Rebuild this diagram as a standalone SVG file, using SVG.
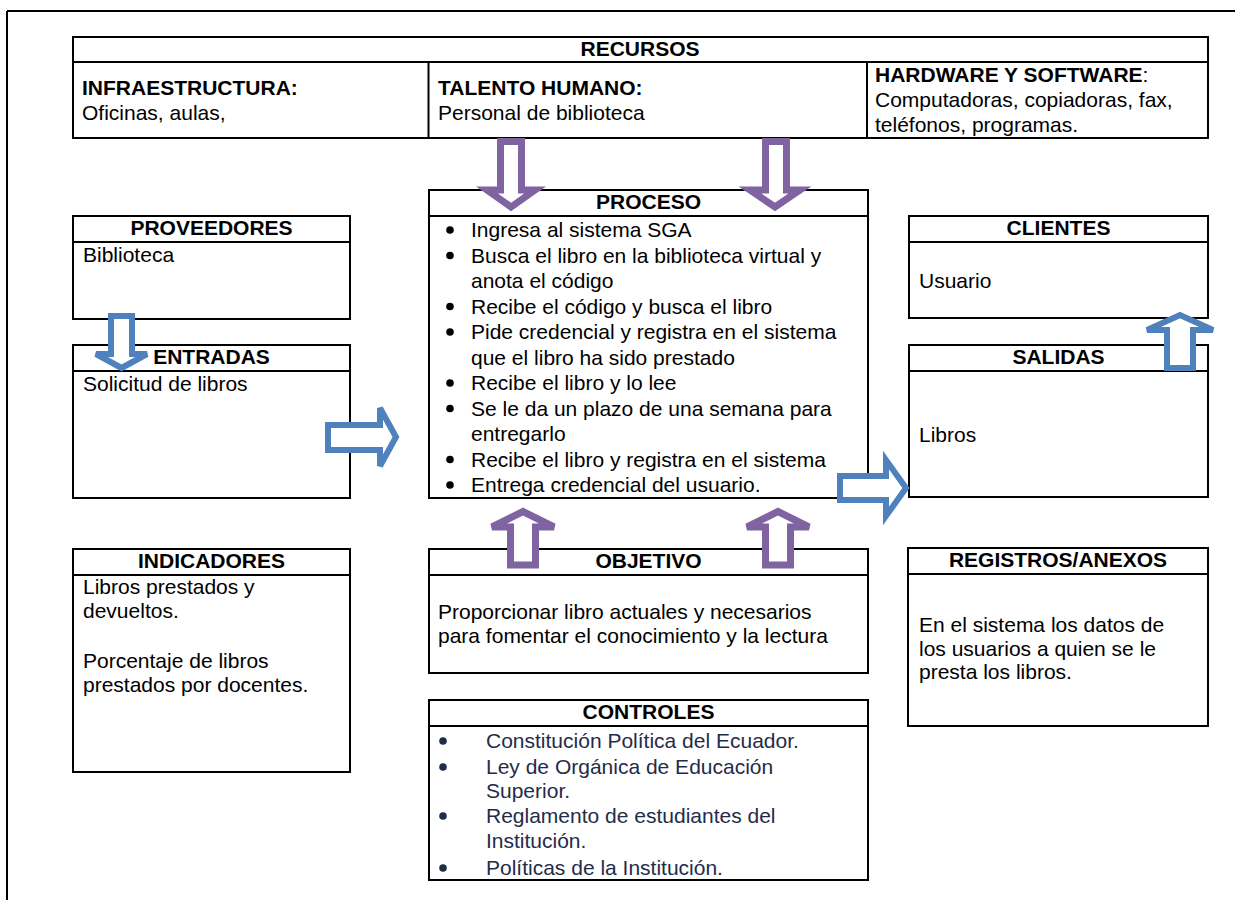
<svg xmlns="http://www.w3.org/2000/svg" width="1235" height="900" viewBox="0 0 1235 900">
<style>
.box{fill:#fff;stroke:#000;stroke-width:2}
.ln{stroke:#000;stroke-width:2;fill:none}
text{font-family:"Liberation Sans",Arial,sans-serif;font-size:21px;fill:#000}
.b{font-weight:bold}
.c{text-anchor:middle}
.nv{fill:#1f2c4a}
.pa{fill:#fff;stroke:#8064a2;stroke-width:7;stroke-linejoin:miter}
.ba{fill:#fff;stroke:#4f81bd;stroke-width:6;stroke-linejoin:miter}
</style>
<rect width="1235" height="900" fill="#fff"/>
<g id="frame">
<path class="ln" d="M7,11 H1235 M7,11 V900"/>
</g>
<g id="recursos">
<rect class="box" x="73" y="37" width="1135" height="101"/>
<path class="ln" d="M73,62 H1208 M428.5,62 V138 M867,62 V138"/>
<text class="b c" x="640" y="56">RECURSOS</text>
<text class="b" x="82" y="95">INFRAESTRUCTURA:</text>
<text x="82" y="120">Oficinas, aulas,</text>
<text class="b" x="438" y="95">TALENTO HUMANO:</text>
<text x="438" y="120">Personal de biblioteca</text>
<text x="875" y="82"><tspan class="b">HARDWARE Y SOFTWARE</tspan>:</text>
<text x="875" y="107">Computadoras, copiadoras, fax,</text>
<text x="875" y="132">teléfonos, programas.</text>
</g>
<g id="proveedores">
<rect class="box" x="73" y="216" width="277" height="103"/>
<path class="ln" d="M73,242 H350"/>
<text class="b c" x="211.5" y="235">PROVEEDORES</text>
<text x="83" y="262">Biblioteca</text>
</g>
<g id="entradas">
<rect class="box" x="73" y="345" width="277" height="153"/>
<path class="ln" d="M73,371 H350"/>
<text class="b c" x="211.5" y="364">ENTRADAS</text>
<text x="83" y="391">Solicitud de libros</text>
</g>
<g id="proceso">
<rect class="box" x="429" y="190" width="439" height="308"/>
<path class="ln" d="M429,216 H868"/>
<text class="b c" x="648.5" y="209">PROCESO</text>
<g fill="#000">
<circle cx="450" cy="230" r="3.8"/>
<circle cx="450" cy="255.5" r="3.8"/>
<circle cx="450" cy="306.5" r="3.8"/>
<circle cx="450" cy="332" r="3.8"/>
<circle cx="450" cy="383" r="3.8"/>
<circle cx="450" cy="408.5" r="3.8"/>
<circle cx="450" cy="459.5" r="3.8"/>
<circle cx="450" cy="485" r="3.8"/>
</g>
<text x="471" y="237">Ingresa al sistema SGA</text>
<text x="471" y="262.5">Busca el libro en la biblioteca virtual y</text>
<text x="471" y="288">anota el código</text>
<text x="471" y="313.5">Recibe el código y busca el libro</text>
<text x="471" y="339">Pide credencial y registra en el sistema</text>
<text x="471" y="364.5">que el libro ha sido prestado</text>
<text x="471" y="390">Recibe el libro y lo lee</text>
<text x="471" y="415.5">Se le da un plazo de una semana para</text>
<text x="471" y="441">entregarlo</text>
<text x="471" y="466.5">Recibe el libro y registra en el sistema</text>
<text x="471" y="492">Entrega credencial del usuario.</text>
</g>
<g id="clientes">
<rect class="box" x="909" y="216" width="299" height="102"/>
<path class="ln" d="M909,242 H1208"/>
<text class="b c" x="1058.5" y="235">CLIENTES</text>
<text x="919" y="288">Usuario</text>
</g>
<g id="salidas">
<rect class="box" x="909" y="345" width="299" height="152"/>
<path class="ln" d="M909,371 H1208"/>
<text class="b c" x="1058.5" y="364">SALIDAS</text>
<text x="919" y="442">Libros</text>
</g>
<g id="indicadores">
<rect class="box" x="73" y="549" width="277" height="223"/>
<path class="ln" d="M73,575 H350"/>
<text class="b c" x="211.5" y="568">INDICADORES</text>
<text x="83" y="594">Libros prestados y</text>
<text x="83" y="618">devueltos.</text>
<text x="83" y="668">Porcentaje de libros</text>
<text x="83" y="692">prestados por docentes.</text>
</g>
<g id="objetivo">
<rect class="box" x="429" y="549" width="439" height="124"/>
<path class="ln" d="M429,575 H868"/>
<text class="b c" x="648.5" y="568">OBJETIVO</text>
<text x="438" y="619">Proporcionar libro actuales y necesarios</text>
<text x="438" y="643">para fomentar el conocimiento y la lectura</text>
</g>
<g id="registros">
<rect class="box" x="908" y="548" width="300" height="178"/>
<path class="ln" d="M908,574 H1208"/>
<text class="b c" x="1058" y="567">REGISTROS/ANEXOS</text>
<text x="919" y="632">En el sistema los datos de</text>
<text x="919" y="656">los usuarios a quien se le</text>
<text x="919" y="679">presta los libros.</text>
</g>
<g id="controles">
<rect class="box" x="429" y="700" width="439" height="180"/>
<path class="ln" d="M429,726 H868"/>
<text class="b c" x="648.5" y="719">CONTROLES</text>
<g fill="#1f2c4a">
<circle cx="443" cy="741" r="3.8"/>
<circle cx="443" cy="767" r="3.8"/>
<circle cx="443" cy="816" r="3.8"/>
<circle cx="443" cy="868" r="3.8"/>
</g>
<text class="nv" x="486" y="748">Constitución Política del Ecuador.</text>
<text class="nv" x="486" y="774">Ley de Orgánica de Educación</text>
<text class="nv" x="486" y="798">Superior.</text>
<text class="nv" x="486" y="823">Reglamento de estudiantes del</text>
<text class="nv" x="486" y="848">Institución.</text>
<text class="nv" x="486" y="875">Políticas de la Institución.</text>
</g>
<g id="connectors">
<path class="pa" d="M500.5,141.5 H521.5 V190 H535 L511,207 L487,190 H500.5 Z"/>
<path class="pa" d="M765.5,141.5 H786.5 V190 H800 L775,207 L750,190 H765.5 Z"/>
<path class="pa" d="M510.5,565 V527 H492 L523,511.5 L554,527 H535.5 V565 Z"/>
<path class="pa" d="M765.5,565 V527 H747 L778,511.5 L809,527 H790.5 V565 Z"/>
<path class="ba" d="M111,316 H132 V354 H147 L121.5,368 L96,354 H111 Z"/>
<path class="ba" d="M328,425 H380 V408 L396,437 L380,466 V450 H328 Z"/>
<path class="ba" d="M840,476 H886 V460 L906,488 L886,516 V500 H840 Z"/>
<path class="ba" d="M1167,368 V330 H1147 L1180,315 L1213,330 H1193 V368 Z"/>
</g>
</svg>
